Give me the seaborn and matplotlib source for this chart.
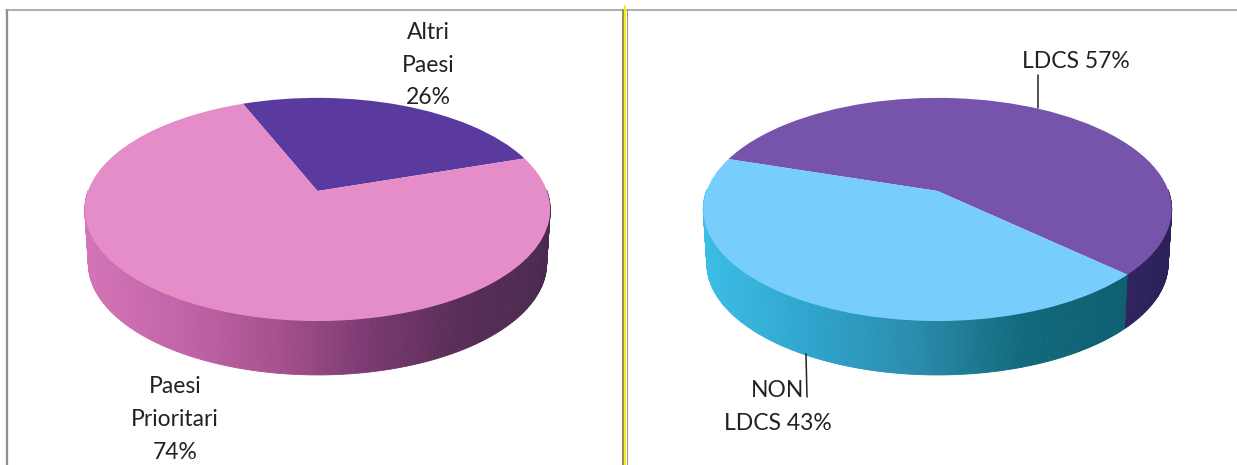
import numpy as np
import seaborn as sns
import matplotlib.pyplot as plt
from matplotlib.transforms import Transform

left_labels = ['Altri\nPaesi\n26%', 'Paesi\nPrioritari\n74%']
left_values = [26, 74]
right_labels = ['LDCS 57%', 'NON\nLDCS 43%']
right_values = [57, 43]

left_colors = ['#5a3a9e', '#e58dc8']
right_colors = ['#7654ac', '#77cdfb']

# side wall shades, left to right
left_wall = ['#d274b6', '#c264a8', '#a8528f', '#7c3a72', '#5a2e58', '#4a2a50']
right_wall_a = ['#3cbde6', '#2fa4cc', '#2a8cab', '#12697c', '#0d5f70']
right_wall_b = ['#2f2360', '#2b2058']

sns.set_theme(style="white")
plt.rcParams['font.family'] = ['Lato', 'DejaVu Sans']


class Persp(Transform):
    # tilted circle seen from the front, far side is smaller
    input_dims = 2
    output_dims = 2

    def __init__(self, cx, cy, sx, sy, k):
        super().__init__()
        self.cx, self.cy, self.sx, self.sy, self.k = cx, cy, sx, sy, k

    def transform_non_affine(self, values):
        values = np.asarray(values)
        w = 1 + self.k * values[:, 1]
        return np.column_stack([self.cx + self.sx * values[:, 0] / w,
                                self.cy - self.sy * values[:, 1] / w])


def pie3d(ax, values, colors, start, cx, cy, wall_colors, rx=231, drop=54):
    top = Persp(cx, cy, rx, 108.5, 0.165)
    bot = Persp(cx, cy + drop, rx - 3.5, 108.5, 0.165)
    wedges, _ = ax.pie(values, colors=colors, startangle=start, counterclock=False,
                       wedgeprops={'linewidth': 0})

    # wall goes first, below the top face
    for w, shades in zip(wedges, wall_colors):
        ang = np.radians(np.linspace(w.theta1, w.theta2, 300))
        ang = ang[np.sin(ang) <= 0.02]
        if len(ang) < 2:
            continue
        pts = np.column_stack([np.cos(ang), np.sin(ang)])
        a, b = top.transform_non_affine(pts), bot.transform_non_affine(pts)
        pal = sns.blend_palette(shades, len(ang) - 1)
        x_lo, x_hi = a[:, 0].min(), a[:, 0].max()
        for i in range(len(ang) - 1):
            j = int((a[i, 0] - x_lo) / (x_hi - x_lo + 1e-9) * (len(pal) - 1))
            ax.fill([a[i, 0], a[i + 1, 0], b[i + 1, 0], b[i, 0]],
                    [a[i, 1], a[i + 1, 1], b[i + 1, 1], b[i, 1]],
                    color=pal[j], lw=0.6, zorder=1)

    for w in wedges:
        w.set_transform(top + ax.transData)
        w.set_zorder(2)
        w.set_clip_on(False)


fig, ax = plt.subplots(figsize=(12.37, 4.65), dpi=100)
fig.subplots_adjust(0, 0, 1, 1)

pie3d(ax, left_values, left_colors, 112, 317.5, 191, [left_wall, left_wall], rx=229.5)
pie3d(ax, right_values, right_colors, 162, 937.5, 191, [right_wall_b, right_wall_a])

ax.set_aspect('auto')
ax.set_xlim(0, 1237)
ax.set_ylim(465, 0)
ax.axis('off')

# panel frame and the yellow divider
ax.plot([7, 7], [465, 10], color='#8f8f8f', lw=1.6, zorder=3)
ax.plot([6, 1237], [10, 10], color='#a0a0a0', lw=1.2, zorder=3)
ax.plot([623, 623], [10, 465], color='#8a7a30', lw=1.2, zorder=3)
ax.plot([625, 625], [6, 465], color='#f4ec20', lw=1.5, zorder=3)
ax.plot([626.7, 626.7], [10, 465], color='#9a9a70', lw=0.7, zorder=3)

txt = dict(fontsize=16.5, color='#222222', ha='center', va='center',
           linespacing=1.68, zorder=5)
ax.text(428, 65, left_labels[0], **txt)
ax.text(175, 419.5, left_labels[1], **txt)
ax.text(1076, 61, right_labels[0], **txt)
ax.text(778, 407, right_labels[1], **txt)

# leader lines
ax.plot([1038, 1038], [75, 108], color='#222222', lw=1.1, zorder=4)
ax.plot([806, 807], [354, 397], color='#222222', lw=1.1, zorder=4)

fig.savefig('out.png', dpi=100)
